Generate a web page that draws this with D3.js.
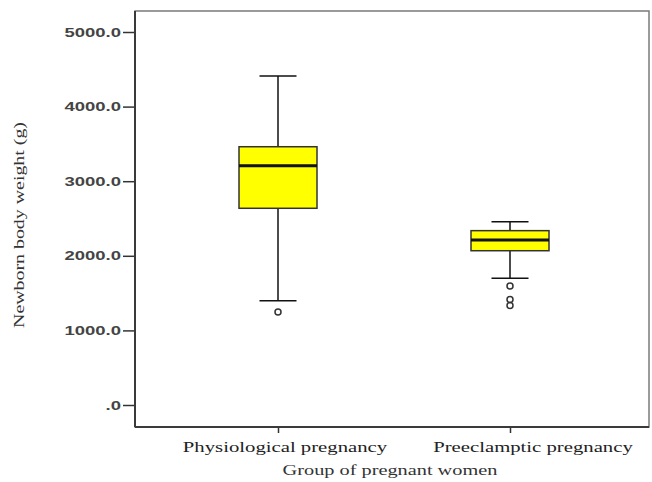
<!DOCTYPE html>
<html>
<head>
<meta charset="utf-8">
<script src="https://cdn.jsdelivr.net/npm/d3@7"></script>
<style>
  html, body { margin: 0; padding: 0; background: #fff; }
  svg { display: block; }
</style>
</head>
<body>
<svg id="chart" width="652" height="482"></svg>
<script>
// Newborn body weight by group of pregnant women (box plot)
const categories = ["Physiological pregnancy", "Preeclamptic pregnancy"];
const whiskerLow  = [1398, 1698];
const q1          = [2637, 2068];
const median      = [3208, 2212];
const q3          = [3462, 2337];
const whiskerHigh = [4410, 2457];
const outliers    = [[1247], [1595, 1414, 1334]];
const yTickValues = [0, 1000, 2000, 3000, 4000, 5000];
const yTitle = "Newborn body weight (g)";
const xTitle = "Group of pregnant women";

const svg = d3.select("#chart");
const frame = { left: 135, top: 11, right: 649, bottom: 427 };

const y = d3.scaleLinear().domain([0, 5000]).range([405, 32]);
const x = d3.scalePoint().domain(categories).range([278, 510]);

const serif = "'Liberation Serif', 'Times New Roman', serif";
const sans = "'Liberation Sans', Arial, sans-serif";

// widen text horizontally by a factor
function stretch(sel, k) {
  sel.each(function () {
    const w = this.getComputedTextLength();
    d3.select(this).attr("textLength", w * k).attr("lengthAdjust", "spacingAndGlyphs");
  });
}

// plot frame: light top/right edges, darker axes
svg.append("rect")
  .attr("x", frame.left).attr("y", frame.top)
  .attr("width", frame.right - frame.left).attr("height", frame.bottom - frame.top)
  .attr("fill", "#fff").attr("stroke", "#7a7a7a").attr("stroke-width", 1.5);

// y axis
const yAxis = d3.axisLeft(y)
  .tickValues(yTickValues)
  .tickSize(12)
  .tickPadding(2)
  .tickFormat(v => v === 0 ? ".0" : v.toFixed(1));
const gy = svg.append("g").attr("transform", `translate(${frame.left},0)`).call(yAxis);
gy.select(".domain").remove();
gy.selectAll(".tick line").attr("stroke", "#333").attr("stroke-width", 1.5);
gy.selectAll(".tick text")
  .attr("font-family", sans).attr("font-size", 13).attr("font-weight", "bold")
  .attr("fill", "#444");
stretch(gy.selectAll(".tick text"), 1.42);

svg.append("line")
  .attr("x1", frame.left).attr("x2", frame.left)
  .attr("y1", frame.top).attr("y2", frame.bottom)
  .attr("stroke", "#3a3a3a").attr("stroke-width", 2);

// x axis
const xAxis = d3.axisBottom(x).tickSize(6).tickFormat("");
const gx = svg.append("g").attr("transform", `translate(0,${frame.bottom})`).call(xAxis);
gx.select(".domain").remove();
gx.selectAll(".tick line").attr("stroke", "#333").attr("stroke-width", 1.5);

svg.append("line")
  .attr("x1", frame.left).attr("x2", frame.right)
  .attr("y1", frame.bottom).attr("y2", frame.bottom)
  .attr("stroke", "#3a3a3a").attr("stroke-width", 2);

const xLabels = svg.append("g").selectAll("text")
  .data(categories).join("text")
  .attr("x", (d, i) => x(d) + (i ? 23 : 7))
  .attr("y", 452)
  .attr("text-anchor", "middle")
  .attr("font-family", serif).attr("font-size", 14)
  .attr("fill", "#222")
  .text(d => d);
stretch(xLabels, 1.48);

const xt = svg.append("text")
  .attr("x", 390).attr("y", 475)
  .attr("text-anchor", "middle")
  .attr("font-family", serif).attr("font-size", 14)
  .attr("fill", "#333")
  .text(xTitle);
stretch(xt, 1.45);

const yt = svg.append("text")
  .attr("transform", `translate(24,225) rotate(-90)`)
  .attr("text-anchor", "middle")
  .attr("font-family", serif).attr("font-size", 14)
  .attr("fill", "#333")
  .text(yTitle);
stretch(yt, 1.42);

// boxes
const boxHalf = 39, capHalf = 18.5;
const boxes = svg.append("g").selectAll("g")
  .data(categories).join("g");

// whiskers
boxes.append("line")
  .attr("x1", d => x(d)).attr("x2", d => x(d))
  .attr("y1", (d, i) => y(whiskerHigh[i])).attr("y2", (d, i) => y(whiskerLow[i]))
  .attr("stroke", "#111").attr("stroke-width", 1.5);
boxes.append("line")
  .attr("x1", d => x(d) - capHalf).attr("x2", d => x(d) + capHalf)
  .attr("y1", (d, i) => y(whiskerHigh[i])).attr("y2", (d, i) => y(whiskerHigh[i]))
  .attr("stroke", "#111").attr("stroke-width", 1.5);
boxes.append("line")
  .attr("x1", d => x(d) - capHalf).attr("x2", d => x(d) + capHalf)
  .attr("y1", (d, i) => y(whiskerLow[i])).attr("y2", (d, i) => y(whiskerLow[i]))
  .attr("stroke", "#111").attr("stroke-width", 1.5);

// interquartile box
boxes.append("rect")
  .attr("x", d => x(d) - boxHalf).attr("width", boxHalf * 2)
  .attr("y", (d, i) => y(q3[i]))
  .attr("height", (d, i) => y(q1[i]) - y(q3[i]))
  .attr("fill", "#ffff00").attr("stroke", "#333").attr("stroke-width", 1.5);

// median
boxes.append("line")
  .attr("x1", d => x(d) - boxHalf).attr("x2", d => x(d) + boxHalf)
  .attr("y1", (d, i) => y(median[i])).attr("y2", (d, i) => y(median[i]))
  .attr("stroke", "#111").attr("stroke-width", 3);

// outliers
boxes.each(function (d, i) {
  d3.select(this).selectAll("circle")
    .data(outliers[i]).join("circle")
    .attr("cx", x(d)).attr("cy", v => y(v))
    .attr("r", 3)
    .attr("fill", "none").attr("stroke", "#333").attr("stroke-width", 1.5);
});
</script>
</body>
</html>
